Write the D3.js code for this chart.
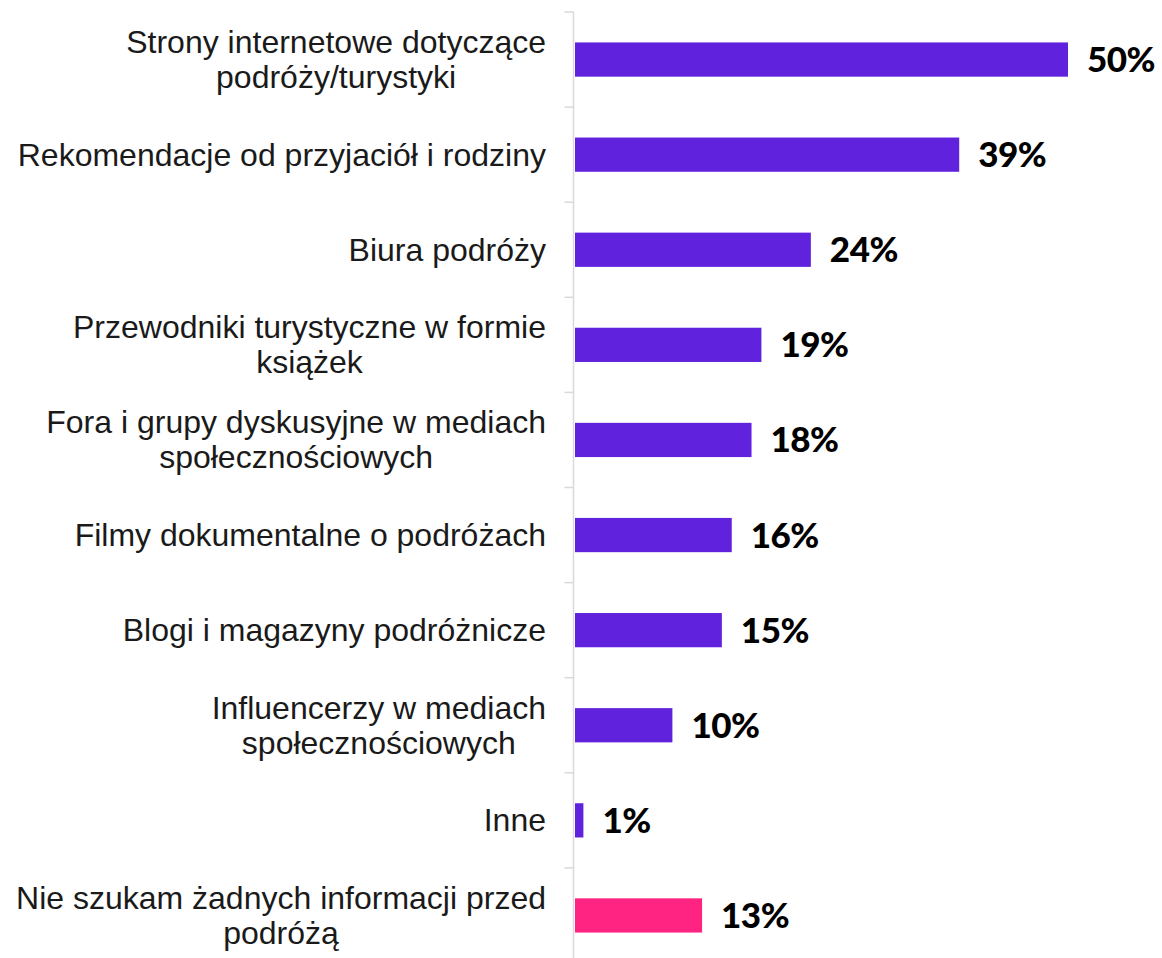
<!DOCTYPE html>
<html>
<head>
<meta charset="utf-8">
<script src="https://cdn.jsdelivr.net/npm/d3@7"></script>
<style>
  html, body { margin: 0; padding: 0; background: #ffffff; }
  svg { display: block; }
</style>
</head>
<body>
<svg id="chart" width="1162" height="958"></svg>
<script>
// Źródła informacji przed podróżą (% wskazań)
const categories = [
  ["Strony internetowe dotyczące", "podróży/turystyki"],
  ["Rekomendacje od przyjaciół i rodziny"],
  ["Biura podróży"],
  ["Przewodniki turystyczne w formie", "książek"],
  ["Fora i grupy dyskusyjne w mediach", "społecznościowych"],
  ["Filmy dokumentalne o podróżach"],
  ["Blogi i magazyny podróżnicze"],
  ["Influencerzy w mediach", "społecznościowych"],
  ["Inne"],
  ["Nie szukam żadnych informacji przed", "podróżą"]
];
const values = [50, 39, 24, 19, 18, 16, 15, 10, 1, 13];
const valueLabels = ["50%", "39%", "24%", "19%", "18%", "16%", "15%", "10%", "1%", "13%"];
const barColors = ["#6022dc", "#6022dc", "#6022dc", "#6022dc", "#6022dc",
                   "#6022dc", "#6022dc", "#6022dc", "#6022dc", "#ff2482"];

const svg = d3.select("#chart");
const axisX = 573.5;
const labelRight = 546;

const x = d3.scaleLinear().domain([0, 50]).range([axisX, 1068]);
const y = d3.scaleBand()
  .domain(d3.range(categories.length))
  .range([12, 963])
  .paddingInner(0.64)
  .paddingOuter(0.32);

// category ticks at band boundaries
const step = y.step();
const tickYs = d3.range(categories.length).map(i => y(i) - y.paddingOuter() * step + 0 + (y.paddingInner() ? 0 : 0));
// compute boundaries directly: top of each band slot
const slotTop = i => 12 + i * ((963 - 12) / categories.length);

const grid = svg.append("g");
grid.append("line")
  .attr("x1", axisX).attr("x2", axisX)
  .attr("y1", 12).attr("y2", 958)
  .attr("stroke", "#d9d9d9").attr("stroke-width", 1.5);
grid.selectAll("line.tick")
  .data(d3.range(categories.length))
  .join("line")
  .attr("class", "tick")
  .attr("x1", axisX - 9).attr("x2", axisX)
  .attr("y1", i => slotTop(i)).attr("y2", i => slotTop(i))
  .attr("stroke", "#d9d9d9").attr("stroke-width", 1.5);

// bars
svg.append("g").selectAll("rect")
  .data(values)
  .join("rect")
  .attr("x", x(0) + 1.5)
  .attr("y", (d, i) => y(i))
  .attr("width", d => x(d) - x(0) - 1.5)
  .attr("height", y.bandwidth())
  .attr("fill", (d, i) => barColors[i]);

// value labels
svg.append("g").selectAll("text")
  .data(values)
  .join("text")
  .attr("x", d => x(d) + 19)
  .attr("y", (d, i) => y(i) + y.bandwidth() / 2 + 12.5)
  .attr("font-family", "Lato, sans-serif")
  .attr("font-weight", 900)
  .attr("font-size", 35)
  .attr("letter-spacing", -0.5)
  .attr("fill", "#000000")
  .text((d, i) => valueLabels[i]);

// category labels: block right-aligned, lines centred within the block
const lineH = 35;
const labelG = svg.append("g")
  .attr("font-family", "'Liberation Sans', Arial, sans-serif")
  .attr("font-size", 32)
  .attr("fill", "#1a1a1a");

categories.forEach((lines, i) => {
  const t = labelG.append("text").attr("text-anchor", "middle");
  const cy = y(i) + y.bandwidth() / 2;
  const tspans = lines.map((ln, k) =>
    t.append("tspan")
      .attr("y", cy + (k - (lines.length - 1) / 2) * lineH + 11)
      .text(ln));
  const widths = tspans.map(s => s.node().getComputedTextLength());
  const maxW = d3.max(widths);
  tspans.forEach(s => s.attr("x", labelRight - maxW / 2));
});
</script>
</body>
</html>
